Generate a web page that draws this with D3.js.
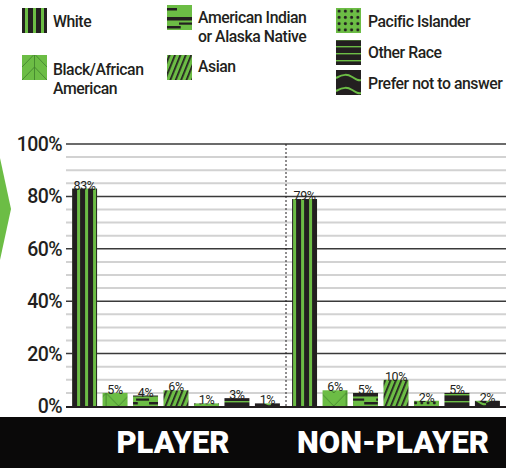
<!DOCTYPE html>
<html><head><meta charset="utf-8">
<script src="https://cdn.jsdelivr.net/npm/d3@7"></script>
<style>html,body{margin:0;padding:0;background:#fff;}svg{display:block;font-family:Roboto,"Noto Sans",sans-serif;}</style>
</head><body>
<script>
// ---- data ----
const groups = ["PLAYER", "NON-PLAYER"];
const races = ["White", "Black/African American", "American Indian or Alaska Native", "Asian", "Pacific Islander", "Other Race", "Prefer not to answer"];
const legendLines = [["White"], ["Black/African", "American"], ["American Indian", "or Alaska Native"], ["Asian"], ["Pacific Islander"], ["Other Race"], ["Prefer not to answer"]];
const playerValues = [83, 5, 4, 6, 1, 3, 1];
const nonPlayerValues = [79, 6, 5, 10, 2, 5, 2];
const yTicks = [0, 20, 40, 60, 80, 100];
const yMinorTicks = d3.range(5, 100, 5).filter(v => v % 20 !== 0);

const W = 521, H = 468;
const GREEN = "#6cbd45", BLACK = "#231f20", DKGREEN = "#3e7d2b";

const svg = d3.select("body").append("svg").attr("width", W).attr("height", H);
const defs = svg.append("defs");

const y = d3.scaleLinear().domain([0, 100]).range([406, 144]);
const xg = d3.scaleBand().domain(groups).range([66, 506]);
const xr = d3.scaleBand().domain(races).range([0, xg.bandwidth()]).paddingInner(0.18).paddingOuter(0.2);
const bw = xr.bandwidth();

// ---- patterns ----
let pid = 0;
function makePattern(race, ox, oy) {
  const id = "pat" + (pid++);
  const i = races.indexOf(race);
  const p = defs.append("pattern").attr("id", id).attr("patternUnits", "userSpaceOnUse");
  const setTile = (w, h) => p.attr("width", w).attr("height", h).attr("x", ox).attr("y", oy);
  if (i === 0) {
    setTile(8, 10);
    p.append("rect").attr("width", 8).attr("height", 10).attr("fill", BLACK);
    p.append("rect").attr("x", 3).attr("width", 3).attr("height", 10).attr("fill", GREEN);
  } else if (i === 1) {
    setTile(bw, 13);
    p.append("rect").attr("width", bw).attr("height", 13).attr("fill", GREEN);
    p.append("path").attr("d", `M${bw/2},0V13M0,13L${bw/2},0L${bw},13`).attr("fill", "none").attr("stroke", DKGREEN).attr("stroke-width", 0.8);
  } else if (i === 2) {
    setTile(bw, 25);
    p.append("rect").attr("width", bw).attr("height", 25).attr("fill", GREEN);
    p.append("rect").attr("x", 0).attr("y", 3).attr("width", bw*0.4).attr("height", 2.5).attr("fill", BLACK);
    p.append("rect").attr("y", 12).attr("width", bw).attr("height", 3.5).attr("fill", BLACK);
    p.append("rect").attr("x", bw*0.48).attr("y", 17.5).attr("width", bw*0.52).attr("height", 2.2).attr("fill", BLACK);
    p.append("rect").attr("x", 0).attr("y", 21).attr("width", bw*0.55).attr("height", 2.5).attr("fill", BLACK);
  } else if (i === 3) {
    setTile(5, 10).attr("patternTransform", "rotate(22)");
    p.append("rect").attr("width", 5).attr("height", 10).attr("fill", GREEN);
    p.append("rect").attr("x", 0).attr("width", 1.7).attr("height", 10).attr("fill", BLACK);
  } else if (i === 4) {
    setTile(6.25, 6.25);
    p.append("rect").attr("width", 6.25).attr("height", 6.25).attr("fill", GREEN);
    p.append("circle").attr("cx", 3.1).attr("cy", 3.1).attr("r", 1.5).attr("fill", BLACK);
  } else if (i === 5) {
    setTile(10, 7);
    p.append("rect").attr("width", 10).attr("height", 7).attr("fill", BLACK);
    p.append("rect").attr("y", 2).attr("width", 10).attr("height", 1.4).attr("fill", GREEN);
  } else {
    setTile(bw, 13);
    p.append("rect").attr("width", bw).attr("height", 13).attr("fill", BLACK);
    p.append("path").attr("d", `M0,9 C${bw*0.3},5 ${bw*0.45},5 ${bw*0.65},8 S${bw*0.9},12 ${bw},11`).attr("fill", "none").attr("stroke", GREEN).attr("stroke-width", 2);
  }
  return `url(#${id})`;
}

// ---- green arrow at left ----
svg.append("polygon").attr("points", "0,158 11,209 0,260").attr("fill", GREEN);

// ---- grid ----
const grid = svg.append("g");
grid.selectAll("line.minor").data(yMinorTicks).join("line")
  .attr("x1", 66).attr("x2", 506).attr("y1", d => y(d)).attr("y2", d => y(d))
  .attr("stroke", "#d2d2d2").attr("stroke-width", 2);
grid.selectAll("line.major").data(yTicks.filter(d => d > 0)).join("line")
  .attr("x1", 66).attr("x2", 506).attr("y1", d => y(d)).attr("y2", d => y(d))
  .attr("stroke", "#3a3a3a").attr("stroke-width", 1.5);

// y axis labels
svg.append("g").selectAll("text").data(yTicks).join("text")
  .attr("x", 62).attr("y", d => y(d)).attr("dy", "0.36em")
  .attr("text-anchor", "end").attr("font-size", 19.5).attr("font-weight", 500)
  .attr("letter-spacing", -0.6).attr("fill", BLACK)
  .text(d => d + "%");

// divider
svg.append("line").attr("x1", xg("NON-PLAYER")).attr("x2", xg("NON-PLAYER")).attr("y1", 144).attr("y2", 406)
  .attr("stroke", BLACK).attr("stroke-width", 1).attr("stroke-dasharray", "2,2");

// ---- bars ----
const series = [playerValues, nonPlayerValues];
groups.forEach((g, gi) => {
  const gg = svg.append("g").attr("transform", `translate(${xg(g)},0)`);
  const data = races.map((r, i) => ({ r, v: series[gi][i] }));
  gg.selectAll("rect").data(data).join("rect")
    .attr("x", d => xr(d.r)).attr("y", d => y(d.v))
    .attr("width", bw).attr("height", d => y(0) - y(d.v))
    .attr("fill", d => makePattern(d.r, xg(g) + xr(d.r), y(0)));
  gg.selectAll("text").data(data).join("text")
    .attr("x", d => xr(d.r) + bw / 2).attr("y", d => y(d.v) + 1)
    .attr("text-anchor", "middle").attr("font-size", 12.5).attr("fill", BLACK)
    .attr("letter-spacing", -0.4)
    .text(d => d.v + "%");
});

// baseline
svg.append("line").attr("x1", 66).attr("x2", 506).attr("y1", y(0) + 1).attr("y2", y(0) + 1)
  .attr("stroke", BLACK).attr("stroke-width", 2);

// ---- bottom band ----
svg.append("rect").attr("x", 0).attr("y", 417).attr("width", 506).attr("height", H - 417).attr("fill", "#0a0909");
svg.append("g").selectAll("text").data(groups).join("text")
  .attr("x", d => xg(d) + xg.bandwidth() / 2 - 3).attr("y", 453)
  .attr("text-anchor", "middle").attr("font-size", 31).attr("font-weight", 900)
  .attr("fill", "#fff").text(d => d);

// ---- legend ----
const legendPos = [
  { sx: 22, sy: 8, tx: 53, base: 27 },
  { sx: 22, sy: 55, tx: 53, base: 75 },
  { sx: 167, sy: 5, tx: 198, base: 23 },
  { sx: 167, sy: 55, tx: 198, base: 72 },
  { sx: 336, sy: 8, tx: 368, base: 27 },
  { sx: 336, sy: 40, tx: 368, base: 58 },
  { sx: 336, sy: 70, tx: 368, base: 89 }
];
const lg = svg.append("g");
races.forEach((r, i) => {
  const p = legendPos[i];
  lg.append("rect").attr("x", p.sx).attr("y", p.sy).attr("width", 25).attr("height", 25)
    .attr("fill", makePattern(r, p.sx, p.sy + 25));
  legendLines[i].forEach((line, li) => {
    lg.append("text").attr("font-size", 15.8).attr("font-weight", 500)
      .attr("letter-spacing", -0.45).attr("fill", BLACK)
      .attr("x", p.tx).attr("y", p.base + li * 18.5).text(line);
  });
});
</script>
</body></html>
